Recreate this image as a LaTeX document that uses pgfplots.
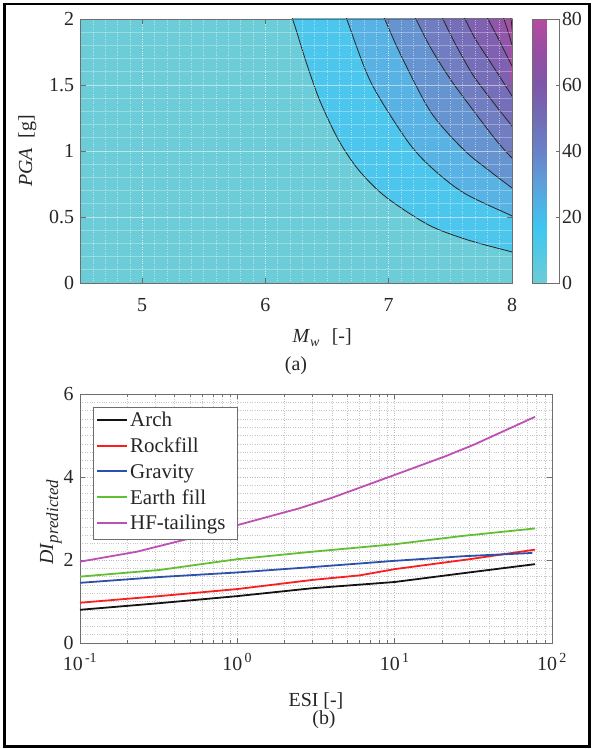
\documentclass[border=0pt]{standalone}
\usepackage{fontspec}
\setmainfont{Liberation Serif}
\usepackage{pgfplots}
\pgfplotsset{compat=1.18}
\definecolor{txt}{RGB}{38,38,38}
\definecolor{axc}{RGB}{110,110,110}
\definecolor{c0}{RGB}{108,204,216}
\definecolor{b1}{RGB}{76,198,236}
\definecolor{b2}{RGB}{88,178,228}
\definecolor{b3}{RGB}{102,148,208}
\definecolor{b4}{RGB}{112,125,192}
\definecolor{b5}{RGB}{118,110,184}
\definecolor{b6}{RGB}{128,96,176}
\definecolor{b7}{RGB}{145,86,170}
\definecolor{b8}{RGB}{165,80,164}
\definecolor{b9}{RGB}{178,78,160}
\definecolor{sArch}{RGB}{20,20,20}
\definecolor{sRock}{RGB}{250,30,30}
\definecolor{sGrav}{RGB}{45,80,170}
\definecolor{sEarthC}{RGB}{100,190,50}
\definecolor{sHF}{RGB}{190,80,180}
\newcommand{\fs}{\fontsize{20}{23}\selectfont}
\newcommand{\fl}{\fontsize{21}{24}\selectfont}
\pgfkeys{/pgf/number format/assume math mode=true}
\pgfplotsset{every axis/.append style={font=\fs, text=txt,
  tick label style={font=\fs, text=txt},
  axis line style={draw=axc}, tick style={draw=axc, line width=0.6bp}}}
\begin{document}
\begin{tikzpicture}
\useasboundingbox (0bp,0bp) rectangle (592bp,749bp);
\draw[line width=2.6bp] (4.3bp,2.3bp) rectangle (589.5bp,745bp);
% ---------------- panel (a)
\begin{axis}[
  at={(80.5bp,466bp)}, anchor=south west, scale only axis,
  width=431.5bp, height=264bp,
  xmin=4.5, xmax=8, ymin=0, ymax=2,
  xtick={5,6,7,8}, ytick={0,0.5,1,1.5,2},
  yticklabels={0,0.5,1,1.5,2},
  xticklabel style={yshift=-12bp}, yticklabel style={xshift=-3bp},
  minor xtick={4.6,4.7,...,7.95}, minor ytick={0.1,0.2,...,1.95},
  minor tick length=0pt, major tick length=5bp,
  tick align=inside, xtick pos=both, ytick pos=both,
  xticklabel pos=lower, yticklabel pos=left,
  grid=both,
  major x grid style={white, dotted, opacity=0.5, line width=0.6bp},
  minor x grid style={white, dotted, opacity=0.5, line width=0.6bp},
  major y grid style={white, opacity=0.3, line width=0.6bp},
  minor y grid style={white, opacity=0.3, line width=0.6bp},
  axis on top,
  axis background/.style={fill=c0},
  xlabel={\textit{M}\textsubscript{\textit{w}}\hspace{0.6em}[-]},
  xlabel style={at={(axis description cs:0.56,-0.227)}, anchor=base},
  ylabel={\textit{PGA}\hspace{0.5em}[g]},
  ylabel style={at={(axis description cs:-0.112,0.5)}, anchor=base},
  colormap={dam}{rgb255(0cm)=(108,204,216) rgb255(17cm)=(62,198,240) rgb255(30cm)=(92,160,220) rgb255(40cm)=(105,130,200) rgb255(50cm)=(114,108,182) rgb255(60cm)=(125,88,168) rgb255(70cm)=(150,78,162) rgb255(80cm)=(180,76,158)},
  point meta min=0, point meta max=80,
  colorbar,
  colorbar style={
    at={(parent axis.north east)}, anchor=north west, xshift=12bp,
    scale only axis, width=27bp, height=264bp,
    ytick={0,20,40,60,80}, tick align=inside, ytick pos=right, yticklabel pos=right,
    major tick length=4bp,
    yticklabel style={font=\fs, text=txt, xshift=-1bp},
    axis line style={draw=axc}},
]
% filled bands (each region beyond contour line k)
\addplot[smooth, draw=none, fill=b1, forget plot] coordinates {(6.13,2.2) (6.22,2.0) (6.325,1.689) (6.439,1.386) (6.593,1.083) (6.756,0.856) (6.976,0.652) (7.325,0.439) (7.642,0.326) (8.0,0.235) (8.2,0.185) (8.8,2.8)} --cycle;
\addplot[smooth, draw=none, fill=b2, forget plot] coordinates {(6.577,2.2) (6.659,2.0) (6.854,1.523) (7.146,1.083) (7.341,0.879) (7.610,0.682) (8.0,0.508) (8.2,0.419) (8.8,2.8)} --cycle;
\addplot[smooth, draw=none, fill=b3, forget plot] coordinates {(6.871,2.2) (6.967,2.0) (7.098,1.727) (7.341,1.295) (7.610,1.008) (7.829,0.841) (8.0,0.720) (8.2,0.578) (8.8,2.8)} --cycle;
\addplot[smooth, draw=none, fill=b4, forget plot] coordinates {(7.11,2.2) (7.22,2.0) (7.341,1.780) (7.504,1.538) (7.683,1.311) (7.870,1.083) (8.0,0.947) (8.2,0.78) (8.8,2.8)} --cycle;
\addplot[smooth, draw=none, fill=b5, forget plot] coordinates {(7.331,2.2) (7.439,2.0) (7.545,1.803) (7.683,1.576) (7.846,1.371) (8.0,1.189) (8.2,0.953) (8.8,2.8)} --cycle;
\addplot[smooth, draw=none, fill=b6, forget plot] coordinates {(7.506,2.2) (7.618,2.0) (7.707,1.841) (7.829,1.667) (8.0,1.417) (8.2,1.125) (8.8,2.8)} --cycle;
\addplot[smooth, draw=none, fill=b7, forget plot] coordinates {(7.692,2.2) (7.805,2.0) (7.886,1.856) (8.0,1.644) (8.2,1.272) (8.8,2.8)} --cycle;
\addplot[smooth, draw=none, fill=b8, forget plot] coordinates {(7.865,2.2) (7.935,2.0) (7.967,1.909) (8.0,1.803) (8.1,1.48) (8.8,2.8)} --cycle;
\addplot[smooth, draw=none, fill=b9, forget plot] coordinates {(7.968,2.2) (7.992,2.0) (8.0,1.932) (8.05,1.5) (8.8,2.8)} --cycle;
% contour lines
\addplot[smooth, black!85, line width=0.8bp] coordinates {(6.13,2.2) (6.22,2.0) (6.325,1.689) (6.439,1.386) (6.593,1.083) (6.756,0.856) (6.976,0.652) (7.325,0.439) (7.642,0.326) (8.0,0.235) (8.2,0.185)};
\addplot[smooth, black!85, line width=0.8bp] coordinates {(6.577,2.2) (6.659,2.0) (6.854,1.523) (7.146,1.083) (7.341,0.879) (7.610,0.682) (8.0,0.508) (8.2,0.419)};
\addplot[smooth, black!85, line width=0.8bp] coordinates {(6.871,2.2) (6.967,2.0) (7.098,1.727) (7.341,1.295) (7.610,1.008) (7.829,0.841) (8.0,0.720) (8.2,0.578)};
\addplot[smooth, black!85, line width=0.8bp] coordinates {(7.11,2.2) (7.22,2.0) (7.341,1.780) (7.504,1.538) (7.683,1.311) (7.870,1.083) (8.0,0.947) (8.2,0.78)};
\addplot[smooth, black!85, line width=0.8bp] coordinates {(7.331,2.2) (7.439,2.0) (7.545,1.803) (7.683,1.576) (7.846,1.371) (8.0,1.189) (8.2,0.953)};
\addplot[smooth, black!85, line width=0.8bp] coordinates {(7.506,2.2) (7.618,2.0) (7.707,1.841) (7.829,1.667) (8.0,1.417) (8.2,1.125)};
\addplot[smooth, black!85, line width=0.8bp] coordinates {(7.692,2.2) (7.805,2.0) (7.886,1.856) (8.0,1.644) (8.2,1.272)};
\addplot[smooth, black!85, line width=0.8bp] coordinates {(7.865,2.2) (7.935,2.0) (7.967,1.909) (8.0,1.803) (8.1,1.48)};
\addplot[smooth, black!85, line width=0.8bp] coordinates {(7.968,2.2) (7.992,2.0) (8.0,1.932) (8.05,1.5)};
\end{axis}
\node[font=\fs, text=txt] at (296bp,383bp) {(a)};
% ---------------- panel (b)
\begin{axis}[
  at={(80bp,106bp)}, anchor=south west, scale only axis,
  width=472bp, height=249bp,
  xmode=log, xmin=0.1, xmax=100, ymin=0, ymax=6,
  xtick={0.1,1,10,100},
  xticklabels={10\textsuperscript{\,-1},10\textsuperscript{\,0},10\textsuperscript{\,1},10\textsuperscript{\,2}},
  xticklabel style={yshift=-7bp}, yticklabel style={xshift=-3bp},
  ytick={0,2,4,6}, minor y tick num=9,
  minor y tick style={draw=none},
  tick align=inside, xtick pos=both, ytick pos=both,
  xticklabel pos=lower, yticklabel pos=left,
  major tick length=5bp, minor tick length=3bp,
  grid=both,
  major grid style={dotted, gray!55, line width=0.6bp},
  minor grid style={dotted, gray!45, line width=0.6bp},
  xlabel={ESI [-]},
  xlabel style={at={(axis description cs:0.5,-0.255)}, anchor=base},
  ylabel={\textit{DI}{\fontsize{17}{20}\selectfont\raisebox{-0.3em}{\textit{predicted}}}},
  ylabel style={at={(axis description cs:-0.057,0.485)}, anchor=base},
]
\addplot[sArch, line width=1.8bp] coordinates {(0.1,0.80) (0.32,0.96) (1,1.13) (3,1.32) (10,1.47) (27,1.68) (78,1.90)};
\addplot[sRock, line width=1.8bp] coordinates {(0.1,0.97) (0.32,1.13) (1,1.30) (3,1.52) (6,1.63) (10,1.78) (30,2.02) (78,2.25)};
\addplot[sGrav, line width=1.8bp] coordinates {(0.1,1.45) (0.32,1.59) (1,1.70) (3,1.83) (10,1.98) (27,2.09) (75,2.17)};
\addplot[sEarthC, line width=1.8bp] coordinates {(0.1,1.60) (0.32,1.76) (1,2.02) (3,2.20) (10,2.38) (27,2.58) (78,2.76)};
\addplot[sHF, line width=1.8bp] coordinates {(0.1,1.96) (0.23,2.20) (0.5,2.52) (1,2.84) (2.5,3.25) (4,3.50) (10,4.05) (21,4.50) (31.5,4.77) (78,5.45)};
\end{axis}
% legend of panel (b)
\draw[draw=axc, fill=white, line width=0.6bp] (93bp,210bp) rectangle (237bp,342bp);
\foreach \yy/\cc/\tt in {329/sArch/Arch, 303.2/sRock/Rockfill, 277.8/sGrav/Gravity, 251.8/sEarthC/Earth\hspace{0.3em}fill, 226/sHF/HF-tailings}{
  \fill[\cc] (97bp,\yy bp-0.95bp) rectangle (127bp,\yy bp+0.95bp);
  \node[font=\fl, text=txt, anchor=base west, inner sep=0pt] at (130bp,\yy bp-7bp) {\tt};
}
\node[font=\fs, text=txt] at (324bp,29bp) {(b)};
\end{tikzpicture}
\end{document}
